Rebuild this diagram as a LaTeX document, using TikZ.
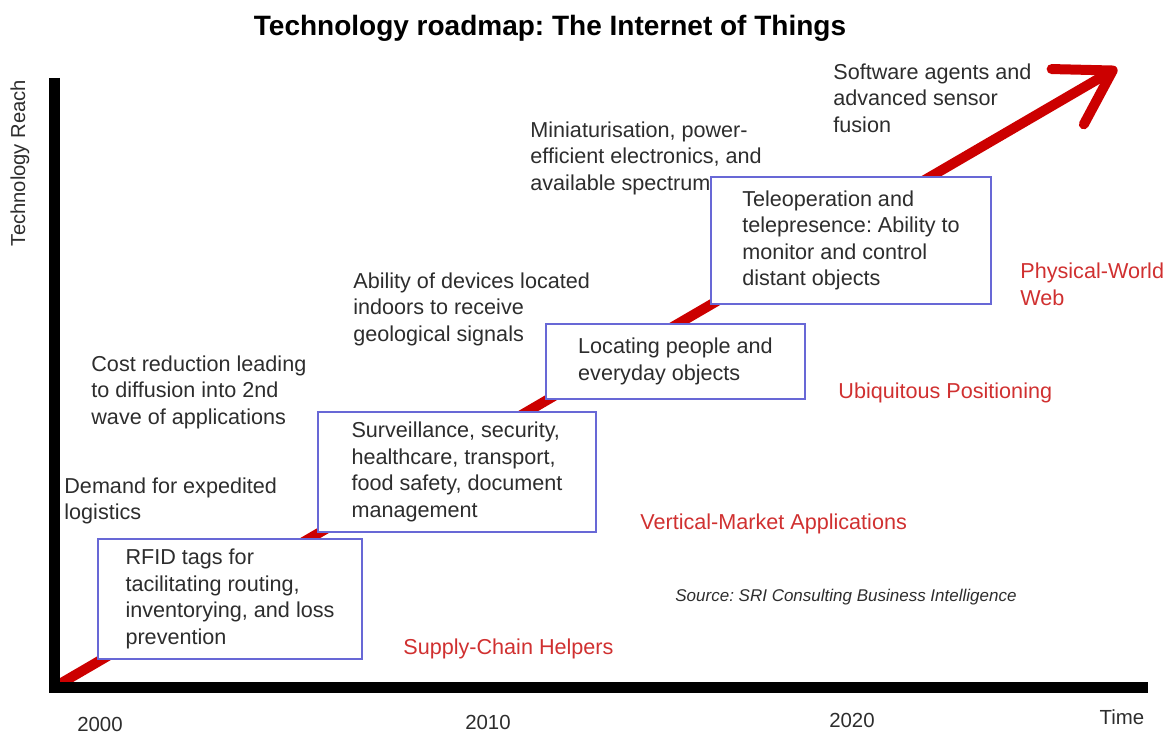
\documentclass[tikz,border=0pt]{standalone}
\usepackage{fontspec}
\setmainfont{Liberation Sans}
\frenchspacing
\usetikzlibrary{arrows.meta, positioning}
\definecolor{roadred}{RGB}{204,0,0}
\definecolor{labelred}{RGB}{208,48,48}
\definecolor{boxblue}{RGB}{104,104,214}
\definecolor{textgray}{RGB}{45,45,45}

\begin{document}
\begin{tikzpicture}[
    x=0.5pt, y=-0.5pt,
    every node/.style={font=\fontsize{10.8}{13.25}\selectfont, text=textgray},
    stage/.style={draw=boxblue, line width=1pt, fill=white, align=left, inner sep=0pt},
    driver/.style={anchor=west, align=left, inner sep=0pt},
    phase/.style={anchor=west, align=left, inner sep=0pt, text=labelred},
    year/.style={inner sep=0pt, font=\fontsize{10.2}{12}\selectfont},
    axis/.style={line width=5.5pt, black},
    trend/.style={line width=5pt, roadred, -{Straight Barb[length=26pt, width=32pt, round]}}
]
    \useasboundingbox (0,0) rectangle (1169,733);

    % Title
    \node[font=\bfseries\fontsize{14}{16}\selectfont, text=black] (title) at (550,28) {Technology roadmap: The Internet of Things};

    % Trend arrow (behind the boxes)
    \coordinate (start) at (58,685);
    \coordinate (tip) at (1117,68);
    \draw[trend] (start) -- (tip);

    % Axes
    \coordinate (ytop) at (54,78);
    \coordinate (origin) at (54,687);
    \coordinate (xend) at (1148,687);
    \draw[axis] (ytop) -- (origin) -- (xend);

    \node[rotate=90, font=\fontsize{10.1}{12}\selectfont] (reach) at (20,163) {Technology Reach};
    \node[year] (y2000) at (100,724) {2000};
    \node[year] (y2010) at (488,722) {2010};
    \node[year] (y2020) at (852,720) {2020};
    \node[year] (time) at (1122,717) {Time};

    % Stages
    \node[stage, minimum width=132pt, minimum height=60pt] (rfid) at (230,599) {RFID tags for\\tacilitating routing,\\inventorying, and loss\\prevention};
    \node[stage, minimum width=139pt, minimum height=60pt] (surveil) at (457,472) {Surveillance, security,\\healthcare, transport,\\food safety, document\\management};
    \node[stage, minimum width=129.5pt, minimum height=37.5pt] (locating) at (675.5,361.5) {Locating people and\\everyday objects};
    \node[stage, minimum width=140pt, minimum height=63.5pt] (tele) at (851,240.5) {Teleoperation and\\telepresence: Ability to\\monitor and control\\distant objects};

    % Drivers
    \node[driver] (demand) at (64,501) {Demand for expedited\\logistics};
    \node[driver] (cost) at (91,392) {Cost reduction leading\\to diffusion into 2nd\\wave of applications};
    \node[driver] (indoor) at (353,309) {Ability of devices located\\indoors to receive\\geological signals};
    \node[driver] (mini) at (530,158) {Miniaturisation, power-\\efficient electronics, and\\available spectrum};
    \node[driver] (agents) at (833,98) {Software agents and\\advanced sensor\\fusion};

    % Phases
    \node[phase] (supply) at (403,649) {Supply-Chain Helpers};
    \node[phase] (market) at (640,524) {Vertical-Market Applications};
    \node[phase] (ubiq) at (838,393) {Ubiquitous Positioning};
    \node[phase] (web) at (1020,284.5) {Physical-World\\Web};

    % Source
    \node[anchor=west, inner sep=0pt, font=\itshape\fontsize{8.5}{10}\selectfont] (source) at (675,597) {Source: SRI Consulting Business Intelligence};
\end{tikzpicture}
\end{document}
